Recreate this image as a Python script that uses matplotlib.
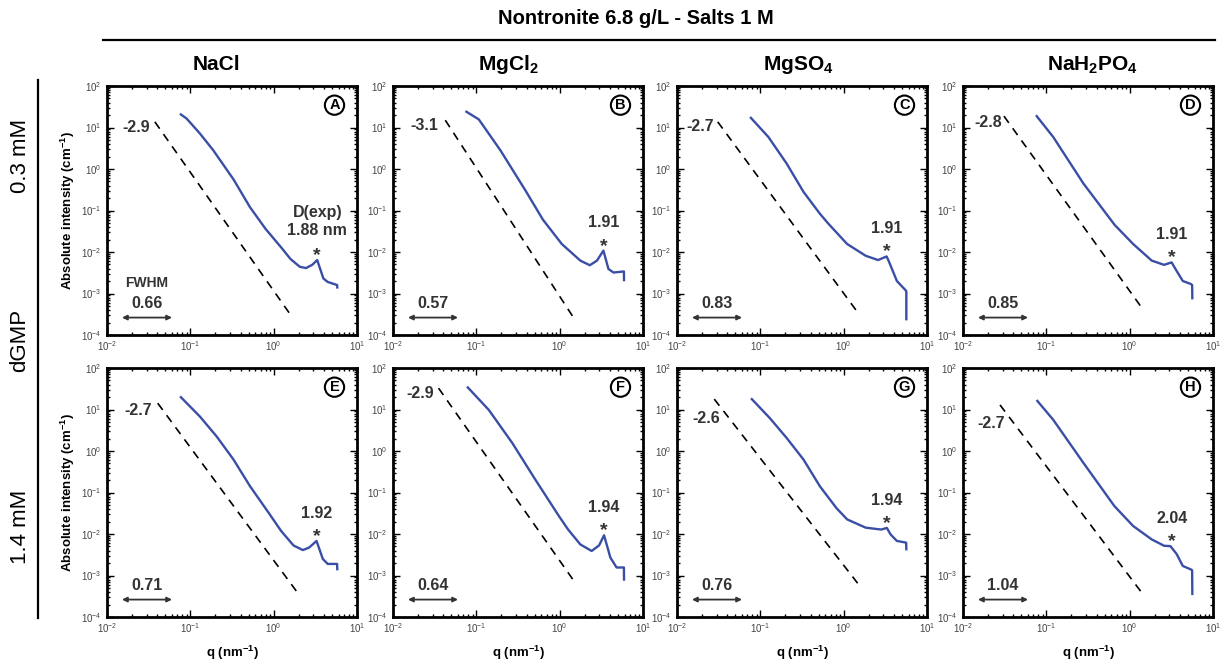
import matplotlib
matplotlib.use('Agg')
import matplotlib.pyplot as plt
from matplotlib.lines import Line2D
from matplotlib.ticker import LogLocator, LogFormatterMathtext, NullFormatter

plt.rcParams['font.family'] = ['Liberation Sans', 'DejaVu Sans']
plt.rcParams['mathtext.fontset'] = 'custom'
plt.rcParams['mathtext.rm'] = 'Liberation Sans'
plt.rcParams['mathtext.bf'] = 'Liberation Sans:bold'
plt.rcParams['mathtext.it'] = 'Liberation Sans:italic'

# ---- data ----
salts = ['NaCl', r'MgCl$_\mathbf{2}$', r'MgSO$_\mathbf{4}$', r'NaH$_\mathbf{2}$PO$_\mathbf{4}$']
rows = ['0.3 mM', '1.4 mM']
letters = ['A', 'B', 'C', 'D', 'E', 'F', 'G', 'H']
slopes = ['-2.9', '-3.1', '-2.7', '-2.8', '-2.7', '-2.9', '-2.6', '-2.7']
fwhm = ['0.66', '0.57', '0.83', '0.85', '0.71', '0.64', '0.76', '1.04']
d_exp = ['1.88', '1.91', '1.91', '1.91', '1.92', '1.94', '1.94', '2.04']
peak_q = [3.33, 3.35, 3.28, 3.19, 3.27, 3.41, 3.30, 3.19]
peak_I = [0.0064, 0.0108, 0.0078, 0.0056, 0.0068, 0.0093, 0.0140, 0.0051]

# power-law guide lines (start / end)
fit_q0 = [0.0375, 0.0424, 0.0308, 0.031, 0.0406, 0.0352, 0.028, 0.0278]
fit_I0 = [13.7, 15.0, 13.7, 18.8, 14.2, 32.7, 17.8, 12.9]
fit_q1 = [1.57, 1.47, 1.43, 1.39, 1.89, 1.43, 1.50, 1.39]
fit_I1 = [3.2e-4, 2.6e-4, 3.8e-4, 4.6e-4, 4.1e-4, 8.2e-4, 6.2e-4, 3.9e-4]

# SAXS curves
A_q = [0.077, 0.09, 0.13, 0.189, 0.33, 0.52, 0.80, 1.23, 1.59, 2.06, 2.44, 2.90, 3.33, 3.95, 4.45, 5.77, 5.8]
A_I = [20.6, 16.5, 7.2, 2.8, 0.56, 0.12, 0.036, 0.0129, 0.0068, 0.0044, 0.0041, 0.0049, 0.0064, 0.0023,
       0.0019, 0.0016, 0.0014]
B_q = [0.076, 0.107, 0.195, 0.39, 0.63, 1.06, 1.77, 2.3, 2.8, 3.35, 3.85, 4.43, 5.9, 5.92]
B_I = [24, 15.7, 2.8, 0.30, 0.06, 0.0156, 0.0062, 0.0048, 0.0062, 0.0108, 0.0039, 0.0032, 0.0034, 0.0021]
C_q = [0.077, 0.125, 0.207, 0.33, 0.52, 0.656, 1.10, 1.84, 2.59, 3.07, 3.28, 3.53, 4.35, 5.62, 5.65, 5.65]
C_I = [17.1, 5.9, 1.35, 0.28, 0.083, 0.048, 0.0156, 0.0081, 0.0064, 0.0074, 0.0078, 0.0056, 0.0020,
       0.00116, 0.00105, 2.4e-4]
D_q = [0.0766, 0.121, 0.278, 0.66, 1.10, 1.84, 2.59, 3.08, 3.19, 3.66, 4.34, 5.4, 5.62, 5.65]
D_I = [18.8, 5.9, 0.45, 0.045, 0.0156, 0.0062, 0.0049, 0.0055, 0.0056, 0.0035, 0.0020, 0.0017, 0.0016, 7.7e-4]
E_q = [0.077, 0.13, 0.207, 0.33, 0.52, 0.87, 1.23, 1.73, 2.24, 2.66, 3.27, 3.89, 4.45, 5.77, 5.8]
E_I = [19.8, 6.8, 2.24, 0.62, 0.142, 0.0325, 0.0118, 0.0053, 0.0041, 0.0047, 0.0068, 0.0025, 0.0019, 0.0019,
       0.00142]
F_q = [0.079, 0.141, 0.27, 0.51, 0.75, 0.98, 1.26, 1.77, 2.42, 2.97, 3.41, 4.06, 4.82, 5.9, 5.92]
F_I = [34, 9.8, 1.56, 0.205, 0.062, 0.027, 0.0129, 0.0056, 0.0039, 0.0053, 0.0093, 0.0027, 0.00156,
       0.00156, 8e-4]
G_q = [0.079, 0.13, 0.207, 0.33, 0.52, 0.82, 1.10, 1.84, 2.82, 3.30, 3.65, 4.35, 5.62, 5.65]
G_I = [17.8, 6.2, 2.06, 0.62, 0.14, 0.042, 0.0225, 0.0142, 0.0128, 0.0140, 0.0098, 0.0068, 0.0062, 0.0043]
H_q = [0.078, 0.121, 0.278, 0.656, 1.10, 1.84, 2.59, 3.08, 3.66, 4.34, 5.55, 5.62, 5.65]
H_I = [16.1, 5.65, 0.52, 0.047, 0.0156, 0.0074, 0.0052, 0.0051, 0.0033, 0.0017, 0.00137, 0.0013, 3.6e-4]

curves_q = [A_q, B_q, C_q, D_q, E_q, F_q, G_q, H_q]
curves_I = [A_I, B_I, C_I, D_I, E_I, F_I, G_I, H_I]

# ---- layout (pixels of the 1225x668 canvas) ----
W, H = 1225, 668
col_left = [107, 393, 677, 963]
row_top = [86, 368]
ax_w, ax_h = 250, 249
title_x = [216, 508, 798, 1093]
# slope label offsets from line start (px)
slope_off = [(-5, -6), (-7, -5), (-4, -5), (-2, -6), (-6, -7), (-5, -5), (6, -19), (5, -19)]

BLUE = '#3a4ea6'
GREY = '#333333'

fig = plt.figure(figsize=(W / 100, H / 100), dpi=100)

for i in range(8):
    r, c = divmod(i, 4)
    ax = fig.add_axes([col_left[c] / W, 1 - (row_top[r] + ax_h) / H, ax_w / W, ax_h / H])
    ax.set_xscale('log')
    ax.set_yscale('log')
    ax.set_xlim(1e-2, 1e1)
    ax.set_ylim(1e-4, 1e2)

    ax.plot(curves_q[i], curves_I[i], color=BLUE, lw=1.7, solid_joinstyle='round')
    ax.plot([fit_q0[i], fit_q1[i]], [fit_I0[i], fit_I1[i]], color='black', lw=1.2, dashes=(5, 4))

    dx, dy = slope_off[i]
    ax.annotate(slopes[i], xy=(fit_q0[i], fit_I0[i]), xytext=(dx * 0.72, dy * 0.72),
                textcoords='offset points', ha='right', va='center', fontsize=11.5,
                fontweight='bold', color=GREY)

    # FWHM arrow
    ax.annotate('', xy=(0.06, 0.07), xytext=(0.26, 0.07), xycoords='axes fraction',
                arrowprops=dict(arrowstyle='<|-|>', color=GREY, lw=1.3, mutation_scale=7,
                                shrinkA=0, shrinkB=0))
    ax.text(0.16, 0.125, fwhm[i], transform=ax.transAxes, ha='center', va='center',
            fontsize=11.5, fontweight='bold', color=GREY)
    if i == 0:
        ax.text(0.16, 0.21, 'FWHM', transform=ax.transAxes, ha='center', va='center',
                fontsize=10, fontweight='bold', color=GREY)

    # peak marker and d-spacing
    ax.annotate('*', xy=(peak_q[i], peak_I[i]), xytext=(0, 0), textcoords='offset points',
                ha='center', va='baseline', fontsize=14, fontweight='bold', color=GREY)
    if i == 0:
        lab, off = 'D(exp)\n' + d_exp[i] + ' nm', 28
    else:
        lab, off = d_exp[i], 20
    ax.annotate(lab, xy=(peak_q[i], peak_I[i]), xytext=(0, off), textcoords='offset points',
                ha='center', va='center', fontsize=11.5, fontweight='bold', color=GREY,
                linespacing=1.25)

    # panel letter
    ax.text(0.91, 0.923, letters[i], transform=ax.transAxes, ha='center', va='center',
            fontsize=10.5, fontweight='bold', color='black',
            bbox=dict(boxstyle='circle,pad=0.18', fc='white', ec='black', lw=1.5))

    ax.xaxis.set_major_locator(LogLocator(base=10, numticks=10))
    ax.yaxis.set_major_locator(LogLocator(base=10, numticks=10))
    ax.xaxis.set_minor_locator(LogLocator(base=10, subs=range(2, 10), numticks=20))
    ax.yaxis.set_minor_locator(LogLocator(base=10, subs=range(2, 10), numticks=20))
    ax.xaxis.set_major_formatter(LogFormatterMathtext())
    ax.yaxis.set_major_formatter(LogFormatterMathtext())
    ax.xaxis.set_minor_formatter(NullFormatter())
    ax.yaxis.set_minor_formatter(NullFormatter())
    ax.tick_params(which='both', direction='in', top=True, right=True, labelsize=7,
                   labelcolor='#444444', width=1)
    ax.tick_params(which='major', length=5)
    ax.tick_params(which='minor', length=2.5)
    ax.tick_params(axis='x', which='major', pad=3)
    ax.tick_params(axis='y', which='major', pad=4)
    for sp in ax.spines.values():
        sp.set_linewidth(2)

    if c == 0:
        ax.set_ylabel(r'Absolute intensity (cm$^{\mathbf{-1}}$)', fontsize=9.5, fontweight='bold',
                      labelpad=3)
    if r == 1:
        ax.set_xlabel(r'q (nm$^{\mathbf{-1}}$)', fontsize=9.5, fontweight='bold', labelpad=6)

# column titles
for c in range(4):
    fig.text(title_x[c] / W, 1 - 65 / H, salts[c], ha='center', va='center', fontsize=15,
             fontweight='bold')

fig.text(636 / W, 1 - 18 / H, 'Nontronite 6.8 g/L - Salts 1 M', ha='center', va='center',
         fontsize=14.5, fontweight='bold')
fig.add_artist(Line2D([103 / W, 1215 / W], [1 - 40 / H, 1 - 40 / H], color='black', lw=1.6,
                      transform=fig.transFigure))

# row labels
fig.add_artist(Line2D([38 / W, 38 / W], [1 - 80 / H, 1 - 618 / H], color='black', lw=1.6,
                      transform=fig.transFigure))
fig.text(20 / W, 1 - 156 / H, rows[0], rotation=90, ha='center', va='center', fontsize=16)
fig.text(20 / W, 1 - 340 / H, 'dGMP', rotation=90, ha='center', va='center', fontsize=16)
fig.text(20 / W, 1 - 527 / H, rows[1], rotation=90, ha='center', va='center', fontsize=16)

fig.savefig('out.png', dpi=100)
